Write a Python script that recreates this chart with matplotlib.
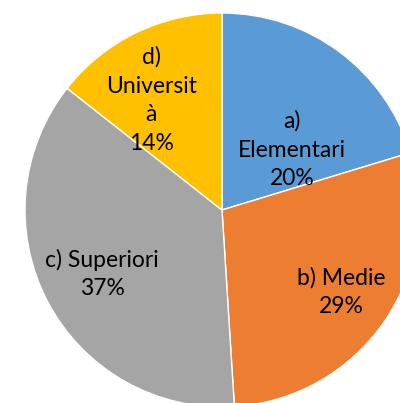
import matplotlib.pyplot as plt

# education level shares
categories = ["a)\nElementari", "b) Medie", "c) Superiori", "d)\nUniversit\nà"]
shares = [20.3, 28.7, 36.6, 14.4]
colors = ["#5B9BD5", "#ED7D31", "#A5A5A5", "#FFC000"]

# label anchor points (axes data units, pie radius = 1)
label_pos = [(0.355, 0.305), (0.604, -0.416), (-0.609, -0.325), (-0.360, 0.558)]

plt.rcParams['font.family'] = ['Lato', 'DejaVu Sans']

W, H = 400, 403
cx, cy, r = 222, 210, 197  # pixel centre and radius

fig = plt.figure(figsize=(W / 100, H / 100), dpi=100)
ax = fig.add_axes([0, 0, 1, 1])
ax.pie(shares, colors=colors, startangle=90, counterclock=False,
       wedgeprops=dict(edgecolor="white", linewidth=1))

total = sum(shares)
for cat, val, (x, y) in zip(categories, shares, label_pos):
    ax.text(x, y, f"{cat}\n{val / total * 100:.0f}%", ha="center", va="center",
            fontsize=16.5, linespacing=1.45, color="black")

ax.set_xlim(-cx / r, (W - cx) / r)
ax.set_ylim(-(H - cy) / r, cy / r)
ax.set_aspect("auto")
ax.axis("off")

fig.savefig("out.png", dpi=100)
